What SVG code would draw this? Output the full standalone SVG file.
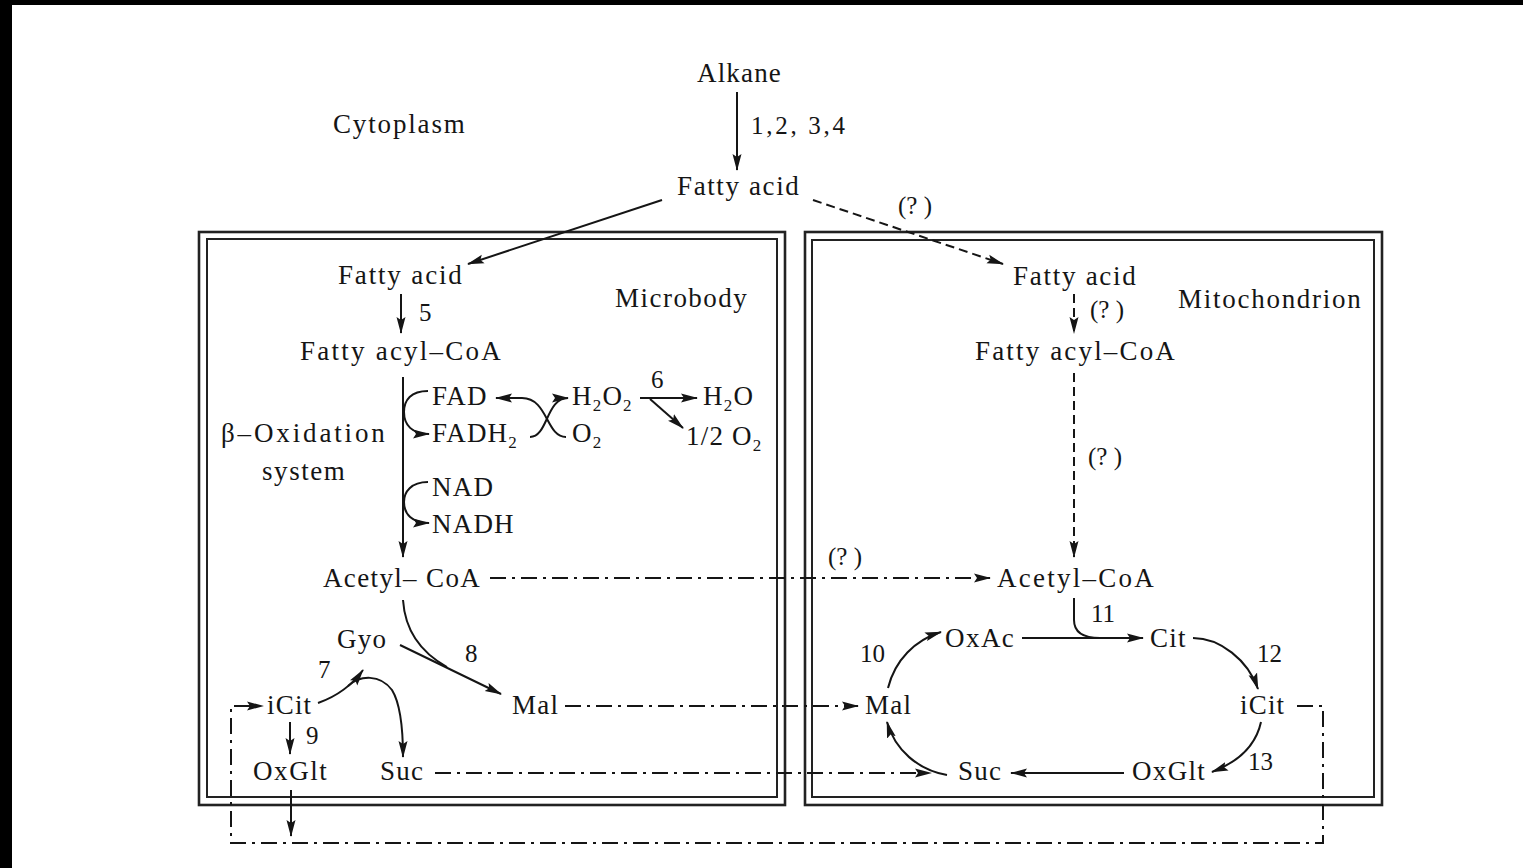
<svg xmlns="http://www.w3.org/2000/svg" width="1523" height="868" viewBox="0 0 1523 868">
<defs>
<style>
.t{font-family:"Liberation Serif","Times New Roman",serif;font-size:27px;letter-spacing:1.2px;fill:#151515}
.n{font-family:"Liberation Serif","Times New Roman",serif;font-size:25px;fill:#151515}
.s{font-size:17px}
.ln{fill:none;stroke:#151515;stroke-width:2}
.da{stroke-dasharray:9,5}
.dd{stroke-dasharray:16,6,3,6}
.bo{fill:none;stroke:#222;stroke-width:2.6}
.bi{fill:none;stroke:#222;stroke-width:2}
</style>
<marker id="ah" markerUnits="userSpaceOnUse" markerWidth="18" markerHeight="10" refX="16" refY="5" orient="auto">
<path d="M0,0.5 L17,5 L0,9.5 L3,5 Z" fill="#151515"/>
</marker>
</defs>
<rect width="1523" height="868" fill="#fff"/>
<rect x="0" y="0" width="1523" height="5" fill="#000"/>
<rect x="0" y="0" width="12" height="868" fill="#000"/>

<g id="microbody-box">
<rect class="bo" x="199" y="232" width="586" height="573"/>
<rect class="bi" x="207" y="239" width="570" height="558"/>
</g>
<g id="mitochondrion-box">
<rect class="bo" x="805" y="232" width="577" height="573"/>
<rect class="bi" x="812" y="240" width="562" height="557"/>
</g>

<g id="connectors">
<path class="ln" d="M737,92 V170" marker-end="url(#ah)"/>
<path class="ln" d="M662,200 L468,264" marker-end="url(#ah)"/>
<path class="ln da" d="M813,200 L1003,264" marker-end="url(#ah)"/>
<path class="ln" d="M401,294 V333" marker-end="url(#ah)"/>
<path class="ln" d="M403,377 V557" marker-end="url(#ah)"/>
<path class="ln" d="M428,391 C411,391 404,400 404,412 C404,425 412,434 429,434" marker-end="url(#ah)"/>
<path class="ln" d="M566,437 C546,437 548,398 522,398 L496,398" marker-end="url(#ah)"/>
<path class="ln" d="M530,437 C548,437 546,398 568,398" marker-end="url(#ah)"/>
<path class="ln" d="M640,398 L697,398" marker-end="url(#ah)"/>
<path class="ln" d="M650,399 L683,428" marker-end="url(#ah)"/>
<path class="ln" d="M428,482 C411,482 404,492 404,502 C404,514 412,523 429,523" marker-end="url(#ah)"/>
<path class="ln dd" d="M490,578 L990,578" marker-end="url(#ah)"/>
<path class="ln" d="M400,645 L501,694" marker-end="url(#ah)"/>
<path class="ln" d="M403,600 C405,630 420,652 447,667"/>
<path class="ln" d="M318,703 C335,697 350,688 363,670" marker-end="url(#ah)"/>
<path class="ln" d="M348,686 C360,675 380,674 392,690 C400,703 403,725 403,757" marker-end="url(#ah)"/>
<path class="ln" d="M290,722 V754" marker-end="url(#ah)"/>
<path class="ln" d="M291,790 V836" marker-end="url(#ah)"/>
<path class="ln dd" d="M1297,706 H1323 V843 H231 V706 H263" marker-end="url(#ah)"/>
<path class="ln dd" d="M565,706 H858" marker-end="url(#ah)"/>
<path class="ln dd" d="M435,773 H931" marker-end="url(#ah)"/>
<path class="ln da" d="M1074,294 V333" marker-end="url(#ah)"/>
<path class="ln da" d="M1074,373 V557" marker-end="url(#ah)"/>
<path class="ln" d="M1074,598 V620 C1074,632 1082,638 1100,638"/>
<path class="ln" d="M1022,638 H1143" marker-end="url(#ah)"/>
<path class="ln" d="M1193,638 C1220,638 1248,660 1258,689" marker-end="url(#ah)"/>
<path class="ln" d="M1261,722 C1256,745 1238,762 1212,772" marker-end="url(#ah)"/>
<path class="ln" d="M1124,773 H1011" marker-end="url(#ah)"/>
<path class="ln" d="M947,775 C918,770 895,750 887,722" marker-end="url(#ah)"/>
<path class="ln" d="M888,688 C895,660 915,640 941,632" marker-end="url(#ah)"/>
</g>

<g id="alkane"><text class="t" x="697" y="82" textLength="85">Alkane</text></g>
<g id="label-1234"><text class="n" x="751" y="134" textLength="94">1,2, 3,4</text></g>
<g id="cytoplasm"><text class="t" x="333" y="133" textLength="133">Cytoplasm</text></g>
<g id="fatty-acid-cyto"><text class="t" x="677" y="195" textLength="123">Fatty acid</text></g>
<g id="q1"><text class="n" x="898" y="214">(? )</text></g>

<g id="fatty-acid-mb"><text class="t" x="338" y="284" textLength="125">Fatty acid</text></g>
<g id="label-5"><text class="n" x="419" y="321">5</text></g>
<g id="microbody-label"><text class="t" x="615" y="307" textLength="133">Microbody</text></g>
<g id="fatty-acyl-coa-mb"><text class="t" x="300" y="360" textLength="202">Fatty acyl–CoA</text></g>
<g id="fad"><text class="t" x="432" y="405">FAD</text></g>
<g id="fadh2"><text class="t" x="432" y="442">FADH<tspan class="s" dy="6">2</tspan></text></g>
<g id="h2o2"><text class="t" x="572" y="405">H<tspan class="s" dy="6">2</tspan><tspan dy="-6">O</tspan><tspan class="s" dy="6">2</tspan></text></g>
<g id="label-6"><text class="n" x="651" y="388">6</text></g>
<g id="h2o"><text class="t" x="703" y="405">H<tspan class="s" dy="6">2</tspan><tspan dy="-6">O</tspan></text></g>
<g id="o2"><text class="t" x="572" y="442">O<tspan class="s" dy="6">2</tspan></text></g>
<g id="half-o2"><text class="t" x="686" y="445">1/2 O<tspan class="s" dy="6">2</tspan></text></g>
<g id="beta-oxidation"><text class="t" x="221" y="442" textLength="165">β–Oxidation</text><text class="t" x="262" y="480" textLength="84">system</text></g>
<g id="nad"><text class="t" x="432" y="496">NAD</text></g>
<g id="nadh"><text class="t" x="432" y="533">NADH</text></g>
<g id="acetyl-coa-mb"><text class="t" x="323" y="587" textLength="158">Acetyl– CoA</text></g>
<g id="gyo"><text class="t" x="337" y="648">Gyo</text></g>
<g id="label-8"><text class="n" x="465" y="662">8</text></g>
<g id="label-7"><text class="n" x="318" y="678">7</text></g>
<g id="icit-mb"><text class="t" x="267" y="714">iCit</text></g>
<g id="label-9"><text class="n" x="306" y="744">9</text></g>
<g id="mal-mb"><text class="t" x="512" y="714">Mal</text></g>
<g id="oxglt-mb"><text class="t" x="253" y="780" textLength="75">OxGlt</text></g>
<g id="suc-mb"><text class="t" x="380" y="780">Suc</text></g>

<g id="fatty-acid-mt"><text class="t" x="1013" y="285" textLength="124">Fatty acid</text></g>
<g id="q2"><text class="n" x="1090" y="318">(? )</text></g>
<g id="mitochondrion-label"><text class="t" x="1178" y="308" textLength="184">Mitochondrion</text></g>
<g id="fatty-acyl-coa-mt"><text class="t" x="975" y="360" textLength="201">Fatty acyl–CoA</text></g>
<g id="q3"><text class="n" x="1088" y="465">(? )</text></g>
<g id="q4"><text class="n" x="828" y="565">(? )</text></g>
<g id="acetyl-coa-mt"><text class="t" x="997" y="587" textLength="158">Acetyl–CoA</text></g>
<g id="label-11"><text class="n" x="1091" y="622">11</text></g>
<g id="oxac"><text class="t" x="945" y="647" textLength="70">OxAc</text></g>
<g id="cit"><text class="t" x="1150" y="647">Cit</text></g>
<g id="label-10"><text class="n" x="860" y="662">10</text></g>
<g id="label-12"><text class="n" x="1257" y="662">12</text></g>
<g id="mal-mt"><text class="t" x="865" y="714">Mal</text></g>
<g id="icit-mt"><text class="t" x="1240" y="714">iCit</text></g>
<g id="label-13"><text class="n" x="1248" y="770">13</text></g>
<g id="suc-mt"><text class="t" x="958" y="780">Suc</text></g>
<g id="oxglt-mt"><text class="t" x="1132" y="780" textLength="74">OxGlt</text></g>
</svg>
